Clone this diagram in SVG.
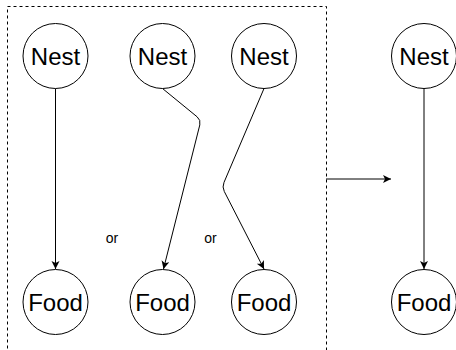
<svg xmlns="http://www.w3.org/2000/svg" width="456" height="350" viewBox="0 0 456 350">
<style>
.node circle{fill:#fff;stroke:#000;stroke-width:1}
.node text{font-family:"Liberation Sans",Arial,Helvetica,sans-serif;font-size:24px;text-anchor:middle;fill:#000}
.lbl{font-family:"Liberation Sans",Arial,Helvetica,sans-serif;font-size:14px;text-anchor:middle;fill:#000}
.edge{fill:none;stroke:#000;stroke-width:1;marker-end:url(#arr)}
.frame{fill:none;stroke:#000;stroke-width:1;stroke-dasharray:3 3}
</style>
<defs>
<marker id="arr" markerUnits="userSpaceOnUse" markerWidth="10" markerHeight="10" refX="8" refY="4" orient="auto">
<path d="M0,0 L8,4 L0,8 L2,4 Z" fill="#000"/>
</marker>
</defs>
<rect width="456" height="350" fill="#fff"/>
<rect class="frame" x="7.5" y="6.5" width="319" height="350"/>
<g id="connectors">
<path class="edge" d="M55.5,88.5 L55.5,269"/>
<path class="edge" d="M162.5,88.5 L197.1,116.8 Q201,120 199.8,124.9 L163.5,269"/>
<path class="edge" d="M264,88.5 L224,182.4 Q222,187 224.3,191.5 L264,269"/>
<path class="edge" d="M326,179 L391,179"/>
<path class="edge" d="M424,88.5 L424,269"/>
</g>
<g id="nest1" class="node"><circle cx="55.5" cy="56" r="32.5"/><text x="55.5" y="64.5">Nest</text></g>
<g id="nest2" class="node"><circle cx="162.5" cy="56" r="32.5"/><text x="162.5" y="64.5">Nest</text></g>
<g id="nest3" class="node"><circle cx="264" cy="56" r="32.5"/><text x="264" y="64.5">Nest</text></g>
<g id="nest4" class="node"><circle cx="424" cy="56" r="32.5"/><text x="424" y="64.5">Nest</text></g>
<g id="food1" class="node"><circle cx="55.5" cy="302" r="32.5"/><text x="55.5" y="310.5">Food</text></g>
<g id="food2" class="node"><circle cx="162.5" cy="302" r="32.5"/><text x="162.5" y="310.5">Food</text></g>
<g id="food3" class="node"><circle cx="264" cy="302" r="32.5"/><text x="264" y="310.5">Food</text></g>
<g id="food4" class="node"><circle cx="424" cy="302" r="32.5"/><text x="424" y="310.5">Food</text></g>
<text class="lbl" x="112" y="243">or</text>
<text class="lbl" x="210.5" y="243">or</text>
</svg>
